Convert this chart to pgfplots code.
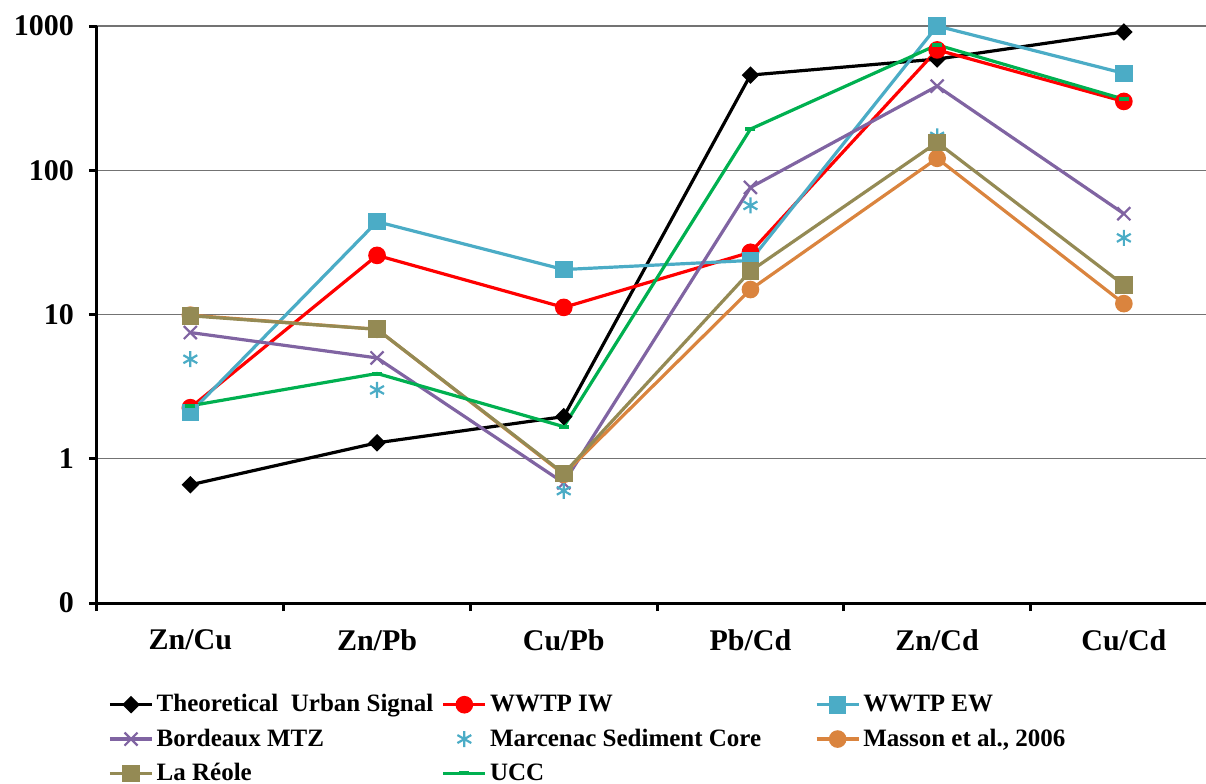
\documentclass[border=0pt]{standalone}
\usepackage{fontspec}
\setmainfont{Liberation Serif}
\usepackage{pgfplots}
\pgfplotsset{compat=1.18}
\definecolor{cEW}{HTML}{4BACC6}
\definecolor{cMTZ}{HTML}{8064A2}
\definecolor{cMas}{HTML}{DA843E}
\definecolor{cReo}{HTML}{948A54}
\definecolor{cUCC}{HTML}{00B050}
\begin{document}
\begin{tikzpicture}
\useasboundingbox (-48.5pt,-90pt) rectangle (554.5pt,301.5pt);
\begin{axis}[
 at={(0,0)}, anchor=south west, scale only axis,
 width=554.5pt, height=288.5pt,
 xmin=0.5, xmax=6.44, ymode=log, ymin=0.1, ymax=1000,
 axis x line*=bottom, axis y line*=left,
 axis line style={line width=1.5pt, -},
 xtick={1,...,6}, xticklabels={Zn/Cu,Zn/Pb,Cu/Pb,Pb/Cd,Zn/Cd,Cu/Cd},
 major x tick style={draw=none},
 minor xtick={0.5,1.5,...,6.5},
 minor x tick style={line width=1.5pt, black},
 ytick={0.1,1,10,100,1000}, yticklabels={0,1,10,100,1000},
 yminorticks=false,
 major y tick style={line width=1.5pt, black},
 tick align=outside, major tick length=4pt, minor tick length=4pt,
 ymajorgrids, grid style={black!55, line width=0.6pt},
 tick label style={font=\fontsize{15}{17}\selectfont\bfseries, /pgf/number format/assume math mode=true},
 xticklabel style={yshift=-6pt, font=\fontsize{15}{17}\selectfont\bfseries},
 yticklabel style={xshift=-4pt},
 clip=false,
 legend columns=3,
 legend cell align=left,
 legend style={at={(0.0099,-0.151)}, anchor=north west, draw=none, fill=none,
   inner sep=0pt, column sep=0pt, row sep=3pt,
   nodes={inner xsep=1.5pt},
   font=\fontsize{12.5}{14}\selectfont\bfseries},
 legend image code/.code={\draw[mark repeat=2,mark phase=2,#1] plot coordinates {(0cm,0cm) (0.37cm,0cm) (0.74cm,0cm)};},
 every axis plot/.append style={line width=1.6pt},
]
\addplot[black, mark=square*, mark size=2.3pt, mark options={rotate=45, solid}] coordinates {(1,0.66) (2,1.29) (3,1.96) (4,457) (5,590) (6,910)};
\addlegendentry{\makebox[141pt][l]{Theoretical\ \ Urban Signal}}
\addplot[red, mark=*, mark size=3.6pt] coordinates {(1,2.26) (2,25.7) (3,11.2) (4,27) (5,683) (6,300)};
\addlegendentry{\makebox[161pt][l]{WWTP IW}}
\addplot[cEW, mark=square*, mark size=3.6pt] coordinates {(1,2.09) (2,44) (3,20.5) (4,23.7) (5,1000) (6,470)};
\addlegendentry{WWTP EW}
\addplot[cMTZ, mark=x, mark size=4.6pt, mark options={line width=1.1pt}] coordinates {(1,7.5) (2,5.0) (3,0.68) (4,76) (5,383) (6,50)};
\addlegendentry{\makebox[141pt][l]{Bordeaux MTZ}}
\addplot[cEW, only marks, mark=asterisk, mark size=4pt, mark options={line width=1.1pt}] coordinates {(1,4.9) (2,3.0) (3,0.6) (4,57) (5,172) (6,34)};
\addlegendentry{\makebox[161pt][l]{Marcenac Sediment Core}}
\addplot[cMas, mark=*, mark size=3.6pt] coordinates {(1,9.9) (2,7.9) (3,0.78) (4,14.9) (5,121) (6,11.9)};
\addlegendentry{Masson et al., 2006}
\addplot[cReo, mark=square*, mark size=3.6pt] coordinates {(1,9.8) (2,7.9) (3,0.79) (4,20) (5,156) (6,16)};
\addlegendentry{\makebox[141pt][l]{La Réole}}
\addplot[cUCC, mark=-, mark size=2.5pt, mark options={line width=2pt}] coordinates {(1,2.33) (2,3.9) (3,1.67) (4,193) (5,740) (6,311)};
\addlegendentry{UCC}
\end{axis}
\end{tikzpicture}
\end{document}
